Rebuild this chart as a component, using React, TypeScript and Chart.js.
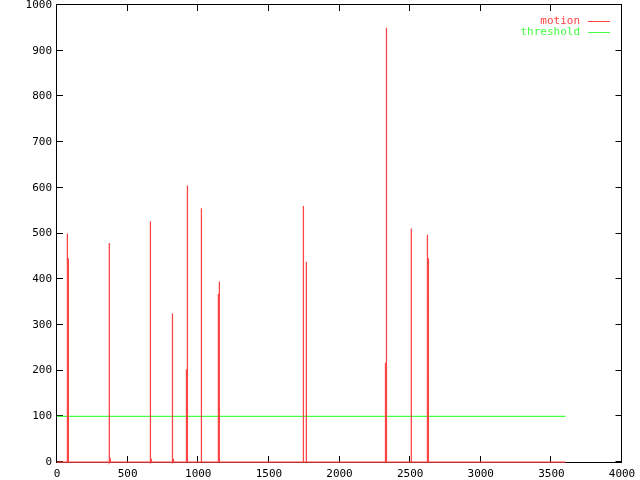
import React, { useEffect, useRef } from "react";
import { Chart, registerables } from "chart.js";

Chart.register(...registerables);

// Motion series (x = sample index, y = motion value)
const motionX = [
  0, 72, 73, 74, 79, 80, 81,
  369, 370, 371, 377, 378,
  660, 661, 662, 668, 669,
  816, 817, 818, 824, 825,
  915, 916, 917, 922, 923, 924,
  1021, 1022, 1023,
  1141, 1142, 1143, 1148, 1149, 1150,
  1743, 1744, 1745, 1764, 1765, 1766,
  2324, 2325, 2326, 2331, 2332, 2333,
  2507, 2508, 2509,
  2621, 2622, 2623, 2628, 2629, 2630,
  3600,
];
const motionY = [
  0, 0, 500, 0, 0, 446, 0,
  0, 479, 0, 5, 0,
  0, 527, 0, 4, 0,
  0, 325, 0, 4, 0,
  0, 203, 0, 0, 605, 0,
  0, 555, 0,
  0, 368, 0, 0, 395, 0,
  0, 560, 0, 0, 438, 0,
  0, 217, 0, 0, 950, 0,
  0, 511, 0,
  0, 497, 0, 0, 446, 0,
  0,
];

const thresholdX = [0, 3600];
const thresholdY = [100, 100];

const xTicks = [0, 500, 1000, 1500, 2000, 2500, 3000, 3500, 4000];
const yTicks = [0, 100, 200, 300, 400, 500, 600, 700, 800, 900, 1000];

const seriesNames = ["motion", "threshold"];
const RED = "#ff4444";
const GREEN = "#44ff44";
const FONT = "DejaVu Sans Mono";

const frame = {
  id: "gnuFrame",
  beforeDatasetsDraw(chart: any) {
    const { ctx, chartArea: a, scales } = chart;
    ctx.save();
    ctx.strokeStyle = "#000";
    ctx.lineWidth = 1;
    ctx.strokeRect(a.left - 0.5, a.top - 0.5, a.right - a.left, a.bottom - a.top + 1);
    const tl = 6;
    ctx.beginPath();
    for (const v of yTicks) {
      const y = Math.round(scales.y.getPixelForValue(v)) - 0.5;
      ctx.moveTo(a.left, y);
      ctx.lineTo(a.left + tl, y);
      ctx.moveTo(a.right - 0.5, y);
      ctx.lineTo(a.right - 0.5 - tl, y);
    }
    for (const v of xTicks) {
      const x = Math.round(scales.x.getPixelForValue(v)) - 0.5;
      ctx.moveTo(x, a.bottom);
      ctx.lineTo(x, a.bottom - tl);
      ctx.moveTo(x, a.top);
      ctx.lineTo(x, a.top + tl);
    }
    ctx.stroke();
    ctx.restore();
  },
};

const gnuLegend = {
  id: "gnuLegend",
  afterDraw(chart: any) {
    const { ctx, chartArea: a } = chart;
    ctx.save();
    ctx.font = `11px "${FONT}"`;
    ctx.textAlign = "right";
    ctx.textBaseline = "middle";
    chart.data.datasets.forEach((ds: any, i: number) => {
      const y = a.top + 16 + i * 11;
      ctx.fillStyle = ds.borderColor;
      ctx.fillText(ds.label, a.right - 42, y + 0.5);
      ctx.strokeStyle = ds.borderColor;
      ctx.lineWidth = 1;
      ctx.beginPath();
      ctx.moveTo(a.right - 34, y + 0.5);
      ctx.lineTo(a.right - 12, y + 0.5);
      ctx.stroke();
    });
    ctx.restore();
  },
};

export default function App() {
  const ref = useRef<HTMLCanvasElement>(null);
  useEffect(() => {
    document.body.style.margin = "0";
    const chart = new Chart(ref.current as HTMLCanvasElement, {
      type: "line",
      data: {
        datasets: [
          {
            label: seriesNames[0],
            data: motionX.map((x, i) => ({ x, y: motionY[i] })),
            borderColor: RED,
            borderWidth: 1.25,
            pointRadius: 0,
            tension: 0,
            clip: false as any,
          },
          {
            label: seriesNames[1],
            data: thresholdX.map((x, i) => ({ x, y: thresholdY[i] })),
            borderColor: GREEN,
            borderWidth: 1.25,
            pointRadius: 0,
            tension: 0,
            clip: false as any,
          },
        ],
      },
      options: {
        responsive: false,
        animation: false,
        layout: { padding: { top: 5, right: 18, left: 0, bottom: 0 } },
        plugins: { legend: { display: false }, tooltip: { enabled: false } },
        scales: {
          x: {
            type: "linear",
            min: 0,
            max: 4000,
            grid: { display: false, drawTicks: false },
            border: { display: false },
            afterBuildTicks: (s: any) => {
              s.ticks = xTicks.map((v) => ({ value: v }));
            },
            afterFit: (s: any) => {
              s.height = 18;
              s.paddingLeft = 0;
              s.paddingRight = 0;
            },
            ticks: {
              color: "#000",
              padding: 6,
              maxRotation: 0,
              autoSkip: false,
              font: { family: FONT, size: 11 },
              callback: (v: any) => String(v),
            },
          },
          y: {
            type: "linear",
            min: 0,
            max: 1000,
            grid: { display: false, drawTicks: false },
            border: { display: false },
            afterBuildTicks: (s: any) => {
              s.ticks = yTicks.map((v) => ({ value: v }));
            },
            afterFit: (s: any) => {
              s.width = 57;
              s.paddingTop = 0;
              s.paddingBottom = 0;
            },
            ticks: {
              color: "#000",
              padding: 5,
              autoSkip: false,
              font: { family: FONT, size: 11 },
              callback: (v: any) => String(v),
            },
          },
        },
      },
      plugins: [frame, gnuLegend],
    });
    return () => chart.destroy();
  }, []);
  return (
    <div style={{ position: "absolute", left: 0, top: 0, width: 640, height: 480, background: "#fff" }}>
      <canvas ref={ref} width={640} height={480} />
    </div>
  );
}
